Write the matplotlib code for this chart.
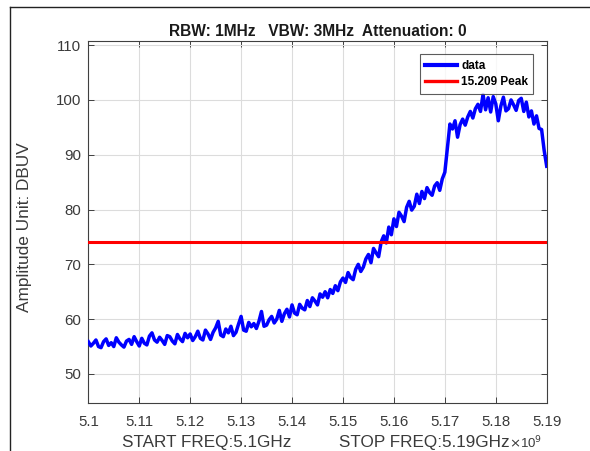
import numpy as np
import matplotlib
matplotlib.use("Agg")
import matplotlib.pyplot as plt
from matplotlib.lines import Line2D

plt.rcParams['font.family'] = ['Liberation Sans', 'DejaVu Sans']

# Sweep settings
start_hz = 5.10e9
stop_hz = 5.19e9
limit_dbuv = 74.0

# Measured trace (dBuV), one sample per 0.5 MHz across the sweep
trace_dbuv = [
    55.9, 55.1, 55.6, 56.2, 55.0, 54.8, 55.9, 56.4, 55.2, 55.7, 55.0, 56.6, 55.8, 55.3, 54.9, 56.0, 56.3, 55.4, 56.8, 55.9, 55.1,
    56.5, 55.6, 55.3, 56.9, 57.5, 56.2, 55.8, 56.7, 56.1, 55.4, 57.0, 56.8, 56.0, 55.5, 57.2, 56.4, 55.9, 57.4, 56.6, 57.3,
    56.1, 56.8, 57.8, 56.5, 56.2, 58.0, 57.3, 56.3, 57.6, 58.4, 59.6, 57.1, 56.8, 58.2, 57.5, 58.7, 57.0, 57.6, 59.1, 60.5,
    58.0, 57.8, 59.4, 58.6, 59.2, 58.3, 59.6, 61.4, 58.7, 58.9, 59.9, 60.5, 59.3, 60.0, 61.6, 59.6, 61.0, 61.8, 60.4, 62.6,
    61.1, 60.8, 62.7, 62.0, 61.7, 63.4, 62.3, 63.9, 63.3, 62.6, 64.6, 64.0, 65.0, 63.9, 65.4, 64.7, 66.1, 65.2, 66.8, 67.5,
    66.7, 68.5, 67.6, 67.2, 69.1, 70.0, 68.7, 69.5, 71.0, 71.8, 70.3, 72.9, 72.1, 71.4, 74.1, 75.2, 73.9, 76.8, 75.4, 78.3,
    76.9, 79.5, 78.8, 77.8, 80.4, 81.5, 79.9, 80.6, 82.8, 81.1, 83.3, 82.0, 84.0, 83.1, 82.6, 84.3, 84.9, 83.5, 85.6, 86.8,
    91.2, 95.6, 94.7, 96.2, 93.2, 95.5, 96.5, 95.4, 96.9, 97.9, 96.7, 98.4, 99.2, 97.9, 101.0, 98.2, 100.4, 97.8, 100.6, 99.3,
    96.2, 98.9, 100.5, 98.0, 98.4, 100.0, 99.1, 98.1, 99.9, 100.3, 97.9, 99.6, 96.9, 98.0, 95.6, 97.1, 94.8, 94.6, 90.8, 87.9,
]

x_ticks_ghz = [5.10, 5.11, 5.12, 5.13, 5.14, 5.15, 5.16, 5.17, 5.18, 5.19]
x_tick_labels = ['5.1', '5.11', '5.12', '5.13', '5.14', '5.15', '5.16', '5.17', '5.18', '5.19']
y_ticks = [50, 60, 70, 80, 90, 100, 110]

freq_hz = np.linspace(start_hz, stop_hz, len(trace_dbuv))

W, H = 590, 451
fig = plt.figure(figsize=(W / 100, H / 100), dpi=100)
ax_l, ax_r, ax_t, ax_b = 88.3, 546.7, 41.3, 403.0
ax = fig.add_axes([ax_l / W, 1 - ax_b / H, (ax_r - ax_l) / W, (ax_b - ax_t) / H])

axis_gray = '#404040'
text_gray = '#3a3a3a'

ax.plot(freq_hz, trace_dbuv, color='#0000ff', lw=2.5, label='data', zorder=3,
        solid_joinstyle='round')
ax.axhline(limit_dbuv, color='#ff0000', lw=2.2, label='15.209 Peak', zorder=3)

ax.set_xlim(start_hz, stop_hz)
ax.set_ylim(44.7, 110.7)
ax.set_xticks([t * 1e9 for t in x_ticks_ghz])
ax.set_xticklabels(x_tick_labels)
ax.set_yticks(y_ticks)

ax.grid(True, color='#dcdcdc', lw=0.8)
ax.set_axisbelow(True)
for s in ax.spines.values():
    s.set_color(axis_gray)
    s.set_linewidth(0.8)
ax.tick_params(direction='in', length=4, width=0.7, color=axis_gray,
               labelsize=10.8, labelcolor=text_gray, top=True, right=True)
ax.tick_params(axis='x', pad=9)
ax.tick_params(axis='y', pad=5)

ax.set_title('RBW: 1MHz   VBW: 3MHz  Attenuation: 0', fontsize=11.2,
             fontweight='bold', color='#1a1a1a', pad=4)
ax.set_xlabel('START FREQ:5.1GHz          STOP FREQ:5.19GHz', fontsize=12.3,
              color=text_gray, va='center')
ax.xaxis.set_label_coords(0.4965, -(442 - ax_b) / (ax_b - ax_t))
ax.set_ylabel('Amplitude Unit: DBUV', fontsize=12.4, color=text_gray, va='center')
ax.yaxis.set_label_coords(-(ax_l - 25) / (ax_r - ax_l), 0.486)

fig.text(509 / W, 1 - 448 / H, r'$\times$10$^{9}$', fontsize=9.5,
         color=text_gray, ha='left', va='baseline')

leg = ax.legend(loc='upper right', bbox_to_anchor=(0.971, 0.964), borderaxespad=0,
                prop={'weight': 'bold', 'size': 8.5}, frameon=True,
                fancybox=False, edgecolor='#333333', handlelength=2.7,
                handletextpad=0.35, borderpad=0.45, labelspacing=0.4)
leg.get_frame().set_linewidth(0.8)
leg.legend_handles[0].set_linewidth(3.0)
leg.legend_handles[1].set_linewidth(2.4)

# Outer frame lines along the top and left of the figure
fig.add_artist(Line2D([10 / W, 10 / W], [0, 1 - 7.3 / H], color='#222222', lw=1.0,
                      transform=fig.transFigure))
fig.add_artist(Line2D([10 / W, 1], [1 - 7.3 / H, 1 - 7.3 / H], color='#222222', lw=1.0,
                      transform=fig.transFigure))

fig.savefig('out.png', dpi=100)
